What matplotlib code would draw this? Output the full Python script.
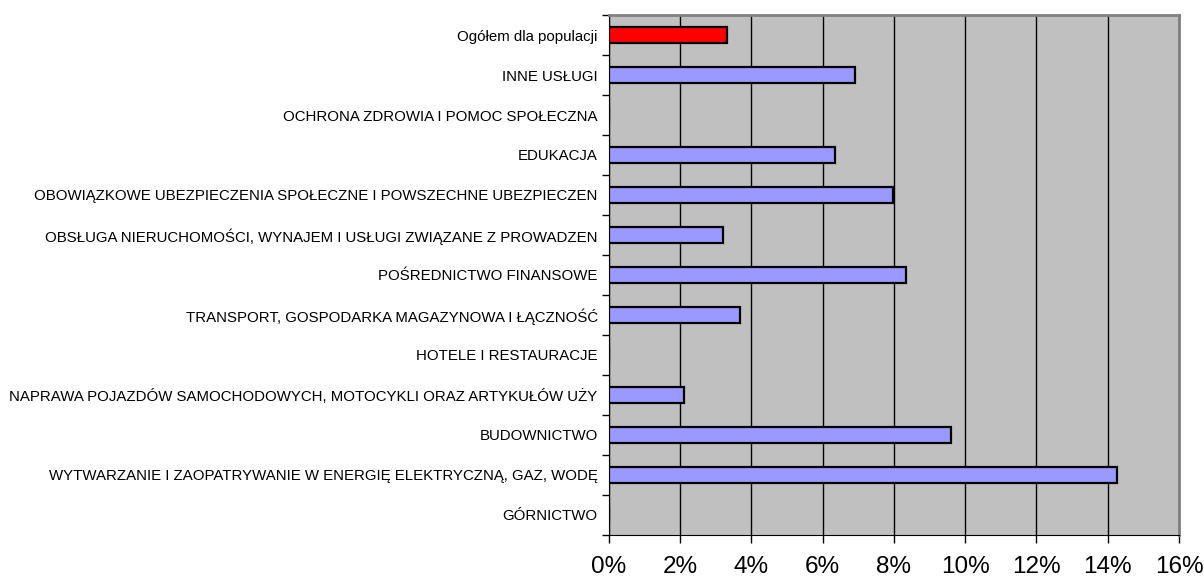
import matplotlib.pyplot as plt
from matplotlib.ticker import FuncFormatter, MultipleLocator
import numpy as np

# categories listed bottom -> top
categories = [
    "GÓRNICTWO",
    "WYTWARZANIE I ZAOPATRYWANIE W ENERGIĘ ELEKTRYCZNĄ, GAZ, WODĘ",
    "BUDOWNICTWO",
    "NAPRAWA POJAZDÓW SAMOCHODOWYCH, MOTOCYKLI ORAZ ARTYKUŁÓW UŻY",
    "HOTELE I RESTAURACJE",
    "TRANSPORT, GOSPODARKA MAGAZYNOWA I ŁĄCZNOŚĆ",
    "POŚREDNICTWO FINANSOWE",
    "OBSŁUGA NIERUCHOMOŚCI, WYNAJEM I USŁUGI ZWIĄZANE Z PROWADZEN",
    "OBOWIĄZKOWE UBEZPIECZENIA SPOŁECZNE I POWSZECHNE UBEZPIECZEN",
    "EDUKACJA",
    "OCHRONA ZDROWIA I POMOC SPOŁECZNA",
    "INNE USŁUGI",
    "Ogółem dla populacji",
]
values = [np.nan, 14.27, 9.61, 2.11, np.nan, 3.68, 8.33, 3.21, 7.99, 6.35, np.nan, 6.9, 3.31]
bar_colors = ["#9999FF"] * 12 + ["#FF0000"]

plt.rcParams['font.family'] = ['Liberation Sans', 'DejaVu Sans']

fig = plt.figure(figsize=(12.04, 5.77), dpi=100)
ax = fig.add_axes([0.5056, 0.0728, 0.4736, 0.9012])
ax.set_facecolor("#C0C0C0")

y = np.arange(len(categories))
ax.barh(y, np.nan_to_num(values), height=0.4, color=bar_colors,
        edgecolor="black", linewidth=1.6, zorder=3)

ax.set_xlim(0, 16)
ax.set_ylim(-0.5, len(categories) - 0.5)
ax.xaxis.set_major_locator(MultipleLocator(2))
ax.xaxis.set_major_formatter(FuncFormatter(lambda v, p: "%d%%" % v))
ax.grid(axis="x", color="black", linewidth=1, zorder=1)

# category labels centred, ticks on the boundaries (Excel style)
ax.set_yticks(y)
ax.set_yticklabels(categories, fontsize=10.8)
ax.tick_params(axis="y", which="major", length=0, pad=8)
ax.set_yticks(np.arange(-0.5, len(categories), 1), minor=True)
ax.tick_params(axis="y", which="minor", length=5, direction="out", width=1)
ax.tick_params(axis="x", length=6, direction="out", width=1, labelsize=17.5, pad=9)

for side in ["top", "right"]:
    ax.spines[side].set_color("#808080")
    ax.spines[side].set_linewidth(2)
ax.spines["left"].set_color("black")
ax.spines["bottom"].set_color("black")

fig.savefig("out.png", dpi=100)
